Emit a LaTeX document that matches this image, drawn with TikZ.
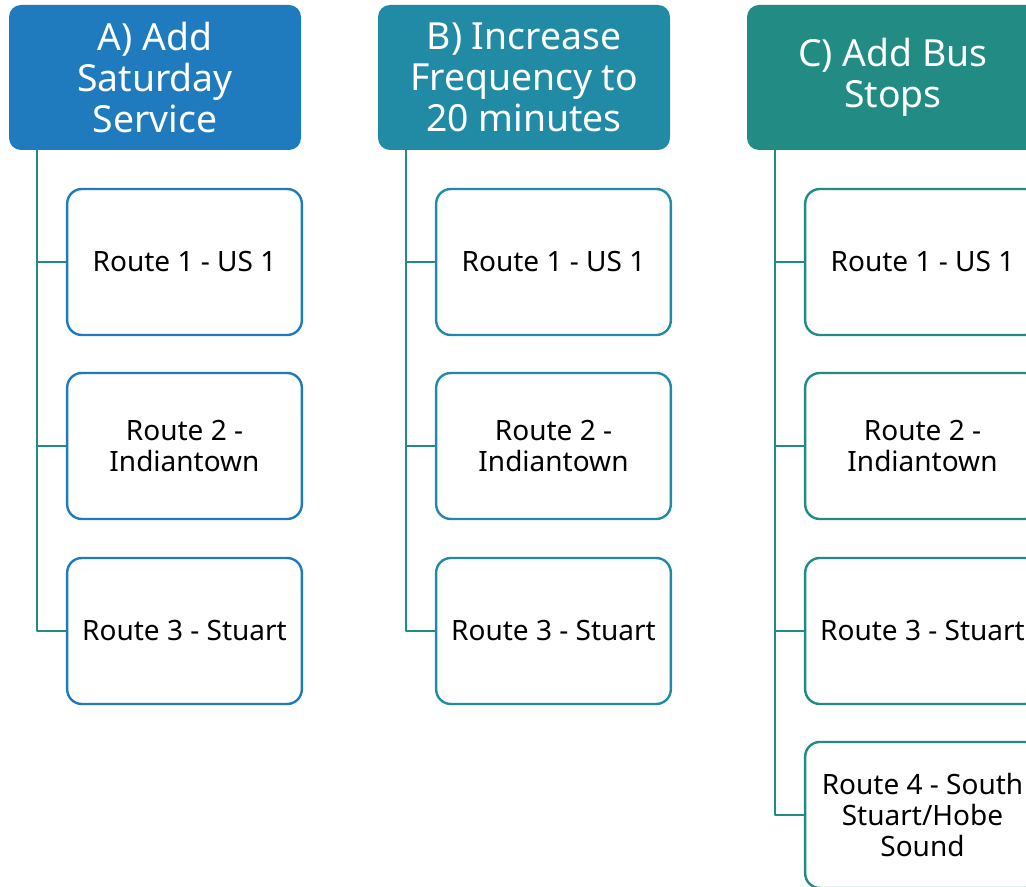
\documentclass[tikz,border=0pt]{standalone}
\usepackage{fontspec}
\setmainfont{Noto Sans}
\usepackage{tikz}

\definecolor{bluA}{RGB}{31,123,190}
\definecolor{bluB}{RGB}{33,138,164}
\definecolor{verdeC}{RGB}{33,139,132}
\definecolor{ramoCol}{RGB}{33,139,134}

\begin{document}
\begin{tikzpicture}[
    x=0.75pt, y=-0.75pt,
    line cap=round,
    line join=round,
    testa/.style={rounded corners=9pt, minimum width=219pt, minimum height=108.75pt,
        text=white, align=center, inner sep=0pt,
        font=\fontsize{28}{31}\selectfont},
    voce/.style={draw, fill=white, line width=1.8pt, rounded corners=11pt,
        minimum width=176pt, minimum height=109.5pt, align=center, inner sep=0pt,
        font=\fontsize{21}{23.25}\selectfont},
    ramo/.style={draw=ramoCol, line width=1.8pt, line cap=butt}
]

\clip (0,0) rectangle (1026,887);

% Intestazioni
\node[testa, fill=bluA] (hA) at (155,77.5) {A) Add\\Saturday\\Service};
\node[testa, fill=bluB] (hB) at (524,77.5) {B) Increase\\Frequency to\\20 minutes};
\node[testa, fill=verdeC] (hC) at (893,77.5) {C) Add Bus\\Stops};

% Colonna A
\node[voce, draw=bluA] (a1) at (184.5,262) {Route 1 - US 1};
\node[voce, draw=bluA] (a2) at (184.5,446) {Route 2 -\\Indiantown};
\node[voce, draw=bluA] (a3) at (184.5,631) {Route 3 - Stuart};

% Colonna B
\node[voce, draw=bluB] (b1) at (553.5,262) {Route 1 - US 1};
\node[voce, draw=bluB] (b2) at (553.5,446) {Route 2 -\\Indiantown};
\node[voce, draw=bluB] (b3) at (553.5,631) {Route 3 - Stuart};

% Colonna C
\node[voce, draw=verdeC] (c1) at (922.5,262) {Route 1 - US 1};
\node[voce, draw=verdeC] (c2) at (922.5,446) {Route 2 -\\Indiantown};
\node[voce, draw=verdeC] (c3) at (922.5,631) {Route 3 - Stuart};
\node[voce, draw=verdeC] (c4) at (922.5,815) {Route 4 - South\\Stuart/Hobe\\Sound};

% Collegamenti
\draw[ramo] ([xshift=21pt]hA.south west) |- (a1.west);
\draw[ramo] ([xshift=21pt]hA.south west) |- (a2.west);
\draw[ramo] ([xshift=21pt]hA.south west) |- (a3.west);

\draw[ramo] ([xshift=21pt]hB.south west) |- (b1.west);
\draw[ramo] ([xshift=21pt]hB.south west) |- (b2.west);
\draw[ramo] ([xshift=21pt]hB.south west) |- (b3.west);

\draw[ramo] ([xshift=21pt]hC.south west) |- (c1.west);
\draw[ramo] ([xshift=21pt]hC.south west) |- (c2.west);
\draw[ramo] ([xshift=21pt]hC.south west) |- (c3.west);
\draw[ramo] ([xshift=21pt]hC.south west) |- (c4.west);

\end{tikzpicture}
\end{document}
